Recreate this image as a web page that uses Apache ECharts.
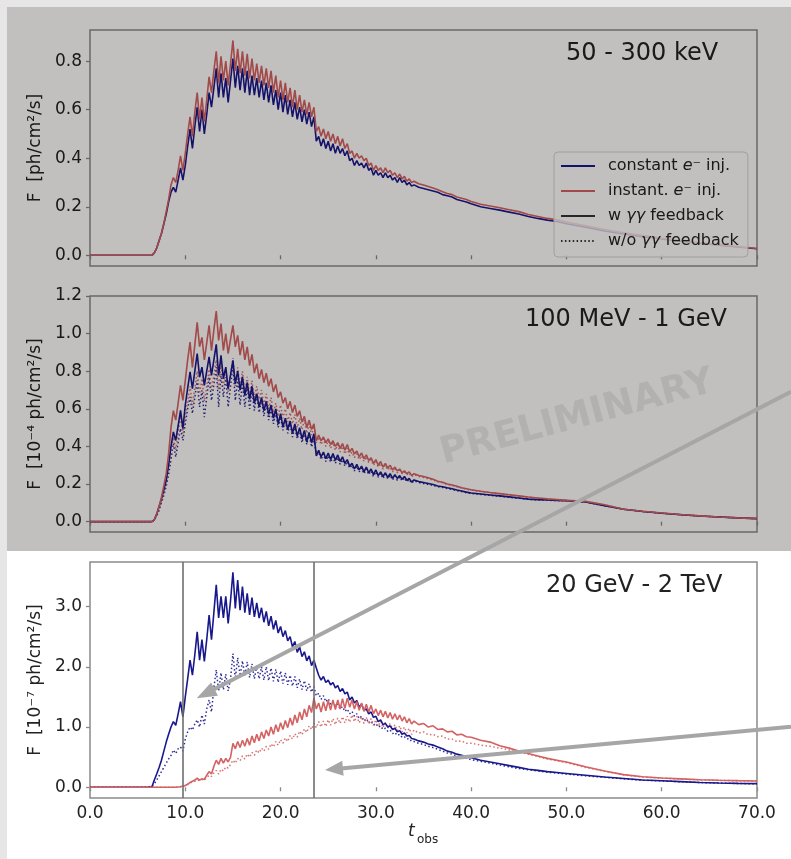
<!DOCTYPE html>
<html><head><meta charset="utf-8">
<script src="https://cdn.jsdelivr.net/npm/echarts@6/dist/echarts.min.js"></script>
<style>html,body{margin:0;padding:0;background:#e6e6e6;}#c{width:791px;height:859px;}</style>
</head><body><div id="c"></div>
<script>
// ---------- DATA ----------
const T = [
0, 6, 6.5, 6.75,
7, 7.25, 7.5, 7.75,
8, 8.25, 8.5, 8.75,
9, 9.25, 9.5, 9.75,
10, 10.25, 10.5, 10.75,
11, 11.25, 11.5, 11.75,
12, 12.25, 12.5, 12.75,
13, 13.25, 13.5, 13.75,
14, 14.25, 14.5, 14.75,
15, 15.25, 15.5, 15.75,
16, 16.25, 16.5, 16.75,
17, 17.25, 17.5, 17.75,
18, 18.25, 18.5, 18.75,
19, 19.25, 19.5, 19.75,
20, 20.25, 20.5, 20.75,
21, 21.25, 21.5, 21.75,
22, 22.25, 22.5, 22.75,
23, 23.25, 23.5, 23.75,
24, 24.25, 24.5, 24.75,
25, 25.25, 25.5, 25.75,
26, 26.25, 26.5, 26.75,
27, 27.25, 27.5, 27.75,
28, 28.25, 28.5, 28.75,
29, 29.25, 29.5, 29.75,
30, 30.25, 30.5, 30.75,
31, 31.25, 31.5, 31.75,
32, 32.25, 32.5, 32.75,
33, 33.25, 33.5, 33.75,
34, 34.5, 35, 35.5, 36, 36.5, 37, 37.5, 38, 38.5, 39, 39.5, 40,
41, 42, 43, 44, 45, 46, 47, 48, 49, 50,
52, 54, 56, 58, 60, 62, 64, 66, 68, 70];

// Panel 1: 50 - 300 keV  [ph/cm2/s]
const P1_CONST = [
0, 0, 0, 0.01,
0.03, 0.06, 0.09, 0.13,
0.17, 0.22, 0.26, 0.28,
0.26, 0.31, 0.36, 0.31,
0.37, 0.45, 0.52, 0.44,
0.53, 0.61, 0.51, 0.60,
0.50, 0.58, 0.67, 0.61,
0.69, 0.77, 0.65, 0.75,
0.65, 0.73, 0.63, 0.72,
0.81, 0.69, 0.78, 0.68,
0.77, 0.67, 0.76, 0.66,
0.74, 0.66, 0.73, 0.65,
0.72, 0.64, 0.71, 0.63,
0.70, 0.62, 0.68, 0.60,
0.67, 0.59, 0.66, 0.58,
0.64, 0.57, 0.63, 0.56,
0.61, 0.55, 0.60, 0.54,
0.59, 0.53, 0.57, 0.47,
0.49, 0.45, 0.48, 0.44,
0.47, 0.43, 0.46, 0.42,
0.45, 0.42, 0.44, 0.41,
0.43, 0.39, 0.40, 0.37,
0.39, 0.37, 0.38, 0.36,
0.38, 0.35, 0.36, 0.33,
0.35, 0.33, 0.34, 0.32,
0.34, 0.32, 0.33, 0.31,
0.32, 0.30, 0.32, 0.30,
0.31, 0.29, 0.30, 0.285,
0.29, 0.28, 0.275, 0.27, 0.265, 0.26, 0.25, 0.245, 0.24, 0.23, 0.225, 0.22, 0.212,
0.20, 0.193, 0.186, 0.178, 0.17, 0.16, 0.152, 0.145, 0.139, 0.13,
0.116, 0.10, 0.088, 0.077, 0.067, 0.058, 0.05, 0.042, 0.034, 0.027];

const P1_INST = [
0, 0, 0, 0.01,
0.03, 0.06, 0.09, 0.13,
0.18, 0.23, 0.29, 0.32,
0.30, 0.35, 0.41, 0.35,
0.42, 0.50, 0.57, 0.49,
0.59, 0.67, 0.56, 0.65,
0.55, 0.64, 0.735, 0.67,
0.76, 0.84, 0.71, 0.82,
0.72, 0.80, 0.70, 0.79,
0.885, 0.76, 0.85, 0.75,
0.84, 0.74, 0.83, 0.73,
0.81, 0.72, 0.79, 0.71,
0.78, 0.70, 0.77, 0.69,
0.76, 0.67, 0.74, 0.65,
0.72, 0.64, 0.71, 0.63,
0.69, 0.61, 0.68, 0.60,
0.66, 0.59, 0.64, 0.58,
0.63, 0.57, 0.61, 0.51,
0.53, 0.49, 0.52, 0.48,
0.51, 0.47, 0.50, 0.46,
0.49, 0.45, 0.48, 0.44,
0.46, 0.42, 0.43, 0.40,
0.42, 0.40, 0.41, 0.39,
0.40, 0.37, 0.38, 0.35,
0.37, 0.35, 0.36, 0.34,
0.36, 0.34, 0.35, 0.33,
0.34, 0.32, 0.335, 0.315,
0.325, 0.305, 0.315, 0.30,
0.305, 0.295, 0.29, 0.283, 0.277, 0.27, 0.262, 0.255, 0.25, 0.24, 0.235, 0.23, 0.222,
0.21, 0.203, 0.196, 0.188, 0.18, 0.168, 0.16, 0.152, 0.146, 0.137,
0.122, 0.106, 0.093, 0.081, 0.07, 0.061, 0.052, 0.044, 0.036, 0.028];

// Panel 2: 100 MeV - 1 GeV  [1e-4 ph/cm2/s]
const P2_CONST = [
0, 0, 0, 0.01,
0.04, 0.08, 0.12, 0.17,
0.22, 0.30, 0.40, 0.477,
0.432, 0.51, 0.592, 0.495,
0.62, 0.71, 0.796, 0.707,
0.80, 0.894, 0.769, 0.822,
0.725, 0.80, 0.876, 0.778,
0.86, 0.943, 0.778, 0.885,
0.761, 0.822, 0.707, 0.78,
0.858, 0.734, 0.80, 0.70,
0.77, 0.67, 0.74, 0.65,
0.72, 0.63, 0.68, 0.61,
0.66, 0.59, 0.64, 0.57,
0.62, 0.55, 0.60, 0.52,
0.574, 0.503, 0.55, 0.49,
0.535, 0.47, 0.52, 0.455,
0.50, 0.44, 0.485, 0.425,
0.475, 0.42, 0.468, 0.35,
0.379, 0.344, 0.37, 0.335,
0.365, 0.33, 0.362, 0.326,
0.355, 0.32, 0.345, 0.31,
0.33, 0.295, 0.31, 0.28,
0.305, 0.275, 0.295, 0.265,
0.29, 0.26, 0.28, 0.25,
0.275, 0.245, 0.265, 0.24,
0.26, 0.235, 0.255, 0.23,
0.25, 0.23, 0.245, 0.225,
0.24, 0.22, 0.23, 0.21,
0.222, 0.213, 0.208, 0.203, 0.198, 0.19, 0.186, 0.18, 0.175, 0.168, 0.163, 0.157, 0.152,
0.147, 0.142, 0.137, 0.132, 0.126, 0.12, 0.117, 0.115, 0.113, 0.112,
0.105, 0.085, 0.066, 0.054, 0.045, 0.037, 0.03, 0.025, 0.02, 0.016];

const P2_INST = [
0, 0, 0, 0.01,
0.04, 0.08, 0.13, 0.19,
0.255, 0.36, 0.50, 0.59,
0.54, 0.63, 0.725, 0.645,
0.75, 0.86, 0.955, 0.82,
0.94, 1.06, 0.93, 0.98,
0.86, 0.95, 1.044, 0.91,
1.02, 1.12, 0.964, 1.053,
0.911, 1.0, 0.894, 0.97,
1.044, 0.929, 0.991, 0.885,
0.96, 0.86, 0.93, 0.83,
0.89, 0.79, 0.84, 0.76,
0.81, 0.74, 0.79, 0.72,
0.76, 0.69, 0.73, 0.66,
0.69, 0.63, 0.66, 0.60,
0.64, 0.58, 0.62, 0.56,
0.59, 0.53, 0.56, 0.50,
0.54, 0.49, 0.52, 0.43,
0.46, 0.43, 0.45, 0.42,
0.44, 0.41, 0.43, 0.40,
0.42, 0.39, 0.415, 0.38,
0.41, 0.37, 0.39, 0.36,
0.375, 0.345, 0.365, 0.335,
0.355, 0.325, 0.34, 0.31,
0.33, 0.30, 0.32, 0.29,
0.31, 0.285, 0.30, 0.275,
0.29, 0.27, 0.28, 0.26,
0.27, 0.255, 0.265, 0.245,
0.255, 0.245, 0.24, 0.233, 0.225, 0.215, 0.21, 0.2, 0.195, 0.188, 0.18, 0.175, 0.17,
0.162, 0.155, 0.149, 0.143, 0.137, 0.131, 0.126, 0.121, 0.117, 0.113,
0.108, 0.09, 0.066, 0.055, 0.046, 0.038, 0.031, 0.025, 0.02, 0.016];

const P2_CONST_NOFB = [
0, 0, 0, 0.01,
0.03, 0.06, 0.10, 0.14,
0.19, 0.25, 0.33, 0.416,
0.344, 0.42, 0.495, 0.432,
0.52, 0.60, 0.663, 0.575,
0.66, 0.752, 0.61, 0.698,
0.556, 0.66, 0.769, 0.645,
0.73, 0.822, 0.61, 0.787,
0.663, 0.769, 0.61, 0.72,
0.831, 0.645, 0.76, 0.62,
0.74, 0.61, 0.72, 0.60,
0.70, 0.59, 0.68, 0.58,
0.65, 0.56, 0.63, 0.54,
0.60, 0.52, 0.58, 0.50,
0.556, 0.486, 0.54, 0.47,
0.52, 0.45, 0.50, 0.44,
0.49, 0.42, 0.475, 0.41,
0.468, 0.397, 0.44, 0.36,
0.37, 0.33, 0.36, 0.32,
0.35, 0.315, 0.345, 0.31,
0.34, 0.305, 0.33, 0.295,
0.32, 0.285, 0.30, 0.27,
0.295, 0.265, 0.285, 0.255,
0.28, 0.25, 0.27, 0.24,
0.265, 0.237, 0.257, 0.23,
0.253, 0.228, 0.247, 0.222,
0.243, 0.22, 0.238, 0.217,
0.233, 0.212, 0.225, 0.205,
0.217, 0.208, 0.203, 0.198, 0.193, 0.186, 0.182, 0.176, 0.171, 0.165, 0.16, 0.154, 0.15,
0.145, 0.14, 0.135, 0.13, 0.124, 0.119, 0.116, 0.114, 0.112, 0.111,
0.104, 0.085, 0.066, 0.054, 0.045, 0.037, 0.03, 0.025, 0.02, 0.016];

const P2_INST_NOFB = [
0, 0, 0, 0.01,
0.04, 0.07, 0.11, 0.16,
0.21, 0.29, 0.38, 0.45,
0.38, 0.47, 0.56, 0.47,
0.56, 0.64, 0.72, 0.62,
0.71, 0.80, 0.68, 0.76,
0.64, 0.72, 0.81, 0.70,
0.78, 0.86, 0.70, 0.84,
0.72, 0.82, 0.69, 0.78,
0.87, 0.72, 0.82, 0.71,
0.80, 0.69, 0.77, 0.67,
0.75, 0.66, 0.72, 0.65,
0.70, 0.62, 0.68, 0.60,
0.66, 0.58, 0.63, 0.56,
0.62, 0.55, 0.60, 0.53,
0.58, 0.52, 0.57, 0.50,
0.55, 0.49, 0.54, 0.47,
0.52, 0.46, 0.51, 0.42,
0.45, 0.41, 0.44, 0.40,
0.43, 0.39, 0.42, 0.38,
0.41, 0.37, 0.40, 0.36,
0.39, 0.35, 0.37, 0.34,
0.36, 0.33, 0.35, 0.32,
0.345, 0.315, 0.33, 0.30,
0.32, 0.29, 0.31, 0.28,
0.30, 0.275, 0.29, 0.265,
0.28, 0.26, 0.275, 0.255,
0.265, 0.25, 0.26, 0.24,
0.25, 0.24, 0.235, 0.228, 0.221, 0.212, 0.207, 0.198, 0.193, 0.186, 0.179, 0.173, 0.168,
0.16, 0.154, 0.148, 0.142, 0.136, 0.13, 0.125, 0.12, 0.116, 0.112,
0.107, 0.09, 0.066, 0.055, 0.046, 0.038, 0.031, 0.025, 0.02, 0.016];

// Panel 3: 20 GeV - 2 TeV  [1e-7 ph/cm2/s]
const P3_CONST = [
0, 0, 0.01, 0.12,
0.22, 0.33, 0.45, 0.60,
0.75, 0.88, 1.0, 1.09,
1.03, 1.22, 1.42, 1.17,
1.5, 1.8, 2.11, 1.86,
2.2, 2.58, 2.11, 2.45,
2.09, 2.45, 2.86, 2.45,
2.9, 3.36, 2.81, 3.17,
2.81, 3.17, 2.72, 3.1,
3.57, 2.97, 3.44, 2.94,
3.33, 2.9, 3.22, 2.86,
3.15, 2.83, 3.06, 2.81,
2.98, 2.74, 2.92, 2.68,
2.84, 2.62, 2.77, 2.56,
2.67, 2.5, 2.6, 2.43,
2.5, 2.33, 2.42, 2.24,
2.33, 2.17, 2.25, 2.1,
2.18, 2.02, 2.11, 1.98,
1.86, 1.78, 1.84, 1.74,
1.78, 1.7, 1.74, 1.65,
1.69, 1.59, 1.64, 1.55,
1.58, 1.45, 1.5, 1.4,
1.44, 1.33, 1.38, 1.28,
1.3, 1.22, 1.25, 1.16,
1.18, 1.09, 1.12, 1.04,
1.06, 1.0, 1.02, 0.96,
0.98, 0.92, 0.94, 0.88,
0.9, 0.85, 0.86, 0.81,
0.8, 0.77, 0.75, 0.72, 0.7, 0.67, 0.64, 0.6, 0.58, 0.55, 0.53, 0.51, 0.49,
0.45, 0.42, 0.39, 0.36, 0.33, 0.3, 0.28, 0.26, 0.245, 0.23,
0.2, 0.17, 0.145, 0.12, 0.108, 0.094, 0.08, 0.071, 0.064, 0.06];

const P3_INST = [
0, 0, 0, 0,
0, 0, 0, 0,
0, 0, 0, 0,
0, 0.005, 0.01, 0.02,
0.03, 0.05, 0.08, 0.1,
0.12, 0.15, 0.12, 0.14,
0.13, 0.2, 0.26, 0.22,
0.35, 0.45, 0.38, 0.48,
0.4, 0.48, 0.42, 0.5,
0.73, 0.64, 0.76, 0.66,
0.78, 0.68, 0.81, 0.7,
0.85, 0.74, 0.88, 0.77,
0.92, 0.81, 0.95, 0.85,
1.0, 0.88, 1.04, 0.92,
1.07, 0.96, 1.11, 0.99,
1.15, 1.03, 1.2, 1.07,
1.25, 1.12, 1.3, 1.17,
1.36, 1.24, 1.48, 1.3,
1.4, 1.25, 1.42, 1.27,
1.44, 1.28, 1.45, 1.29,
1.45, 1.3, 1.47, 1.31,
1.48, 1.33, 1.45, 1.3,
1.42, 1.28, 1.4, 1.26,
1.38, 1.25, 1.36, 1.22,
1.3, 1.19, 1.28, 1.17,
1.26, 1.15, 1.24, 1.13,
1.22, 1.12, 1.2, 1.1,
1.17, 1.07, 1.14, 1.05,
1.1, 1.04, 1.06, 1.0, 1.02, 0.96, 0.97, 0.92, 0.93, 0.87, 0.88, 0.84, 0.83,
0.78, 0.75, 0.69, 0.65, 0.6, 0.56, 0.52, 0.48, 0.45, 0.42,
0.34, 0.27, 0.21, 0.175, 0.155, 0.14, 0.125, 0.116, 0.11, 0.105];

const P3_CONST_NOFB = [
0, 0, 0.02, 0.06,
0.12, 0.19, 0.26, 0.33,
0.4, 0.47, 0.53, 0.62,
0.56, 0.64, 0.67, 0.6,
0.8, 0.92, 1.0, 0.95,
1.05, 1.12, 1.0, 1.2,
1.05, 1.3, 1.45, 1.25,
1.65, 1.95, 1.6, 1.9,
1.62, 1.88, 1.6, 1.8,
2.22, 1.8, 2.15, 1.85,
2.1, 1.84, 2.08, 1.82,
2.05, 1.8, 2.02, 1.8,
2.0, 1.78, 2.0, 1.77,
1.98, 1.76, 1.96, 1.74,
1.93, 1.72, 1.9, 1.7,
1.86, 1.68, 1.84, 1.65,
1.8, 1.62, 1.77, 1.6,
1.72, 1.58, 1.67, 1.52,
1.56, 1.46, 1.52, 1.42,
1.47, 1.38, 1.42, 1.35,
1.38, 1.3, 1.34, 1.26,
1.3, 1.22, 1.26, 1.18,
1.22, 1.14, 1.18, 1.1,
1.14, 1.07, 1.1, 1.03,
1.06, 1.0, 1.02, 0.96,
0.98, 0.93, 0.95, 0.89,
0.91, 0.86, 0.88, 0.83,
0.84, 0.8, 0.81, 0.76,
0.76, 0.73, 0.71, 0.68, 0.66, 0.63, 0.6, 0.57, 0.55, 0.52, 0.5, 0.48, 0.46,
0.43, 0.4, 0.37, 0.34, 0.31, 0.29, 0.27, 0.25, 0.235, 0.22,
0.19, 0.165, 0.14, 0.118, 0.105, 0.092, 0.079, 0.07, 0.063, 0.057];

const P3_INST_NOFB = [
0, 0, 0, 0,
0, 0, 0, 0,
0, 0, 0, 0,
0, 0.005, 0.01, 0.02,
0.03, 0.05, 0.07, 0.09,
0.1, 0.12, 0.11, 0.13,
0.12, 0.16, 0.2, 0.18,
0.24, 0.28, 0.22, 0.3,
0.27, 0.34, 0.32, 0.38,
0.45, 0.4, 0.48, 0.44,
0.52, 0.47, 0.55, 0.5,
0.58, 0.53, 0.62, 0.57,
0.65, 0.6, 0.68, 0.63,
0.72, 0.67, 0.76, 0.7,
0.79, 0.73, 0.82, 0.76,
0.86, 0.8, 0.89, 0.83,
0.93, 0.87, 0.97, 0.91,
1.02, 0.96, 1.06, 0.99,
1.09, 1.0, 1.1, 1.01,
1.12, 1.03, 1.14, 1.04,
1.15, 1.06, 1.17, 1.07,
1.18, 1.08, 1.2, 1.09,
1.18, 1.07, 1.17, 1.06,
1.16, 1.05, 1.14, 1.03,
1.12, 1.01, 1.1, 0.99,
1.08, 0.98, 1.06, 0.96,
1.04, 0.94, 1.02, 0.92,
1.0, 0.9, 0.98, 0.88,
0.95, 0.9, 0.92, 0.87, 0.88, 0.84, 0.85, 0.8, 0.8, 0.76, 0.77, 0.73, 0.73,
0.7, 0.68, 0.65, 0.62, 0.58, 0.55, 0.51, 0.47, 0.44, 0.41,
0.33, 0.265, 0.205, 0.17, 0.152, 0.137, 0.123, 0.114, 0.108, 0.103];

const V_LINES = [9.75, 23.5];
const BANDS = ['50 - 300 keV', '100 MeV - 1 GeV', '20 GeV - 2 TeV'];
const Y_NAMES = ['F  [ph/cm²/s]', 'F  [10⁻⁴ ph/cm²/s]', 'F  [10⁻⁷ ph/cm²/s]'];
const Y_TICKS = [[0, 0.2, 0.4, 0.6, 0.8], [0, 0.2, 0.4, 0.6, 0.8, 1.0, 1.2], [0, 1, 2, 3]];
const Y_MIN = [-0.044, -0.055, -0.178];
const Y_MAX = [0.928, 1.2, 3.74];
const X_MIN = 0, X_MAX = 70, X_STEP = 10;
const LEG = ['constant e⁻ inj.', 'instant. e⁻ inj.', 'w γγ feedback', 'w/o γγ feedback'];

// ---------- CHART ----------
const FONT = 'DejaVu Sans';
const BLUE = '#18188c', RED = '#d46262', SPINE = '#8a8a8a', TXT = '#222';
const chart = echarts.init(document.getElementById('c'), null, {renderer: 'canvas'});
const pairs = arr => T.map((t, i) => [t, arr[i]]);
function line(name, arr, g, color, dotted, extra) {
  return Object.assign({
    type: 'line', name: name, xAxisIndex: g, yAxisIndex: g, data: pairs(arr),
    showSymbol: false, symbol: 'none', animation: false, silent: true,
    lineStyle: {color: color, width: dotted ? 1.5 : 1.6, type: dotted ? [1.5, 2.4] : 'solid', opacity: dotted ? 0.9 : 1},
    itemStyle: {color: color}, z: dotted ? 2 : 3
  }, extra || {});
}
const GT = [30, 296, 562];
const grids = GT.map(t => ({left: 90, top: t, width: 667, height: 236, show: true,
  borderColor: SPINE, borderWidth: 1.5, backgroundColor: 'transparent'}));
const xAxes = [0, 1, 2].map(i => ({
  type: 'value', gridIndex: i, min: X_MIN, max: X_MAX, interval: X_STEP,
  axisLine: {show: false}, splitLine: {show: false},
  axisTick: {show: true, length: 4, lineStyle: {color: SPINE, width: 1.3}},
  axisLabel: {show: i === 2, margin: 7, fontSize: 17, fontFamily: FONT, color: TXT,
    formatter: v => v.toFixed(1)}
}));
const yAxes = [0, 1, 2].map(i => ({
  type: 'value', gridIndex: i, min: Y_MIN[i], max: Y_MAX[i],
  name: Y_NAMES[i], nameLocation: 'middle', nameGap: 39, nameRotate: 90,
  nameTextStyle: {fontSize: 17, fontFamily: FONT, color: TXT},
  axisLine: {show: false}, splitLine: {show: false},
  axisTick: {show: true, length: 4, customValues: Y_TICKS[i], lineStyle: {color: SPINE, width: 1.3}},
  axisLabel: {customValues: Y_TICKS[i], fontSize: 17, fontFamily: FONT, color: TXT,
    formatter: v => v.toFixed(1)}
}));

const series = [
  line(LEG[0], P1_CONST, 0, BLUE, false),
  line(LEG[1], P1_INST, 0, RED, false),
  {type: 'line', name: LEG[2], xAxisIndex: 0, yAxisIndex: 0, data: [], symbol: 'none',
    lineStyle: {color: '#333', width: 1.6}, itemStyle: {color: '#333'}},
  {type: 'line', name: LEG[3], xAxisIndex: 0, yAxisIndex: 0, data: [], symbol: 'none',
    lineStyle: {color: '#333', width: 1.5, type: [1.5, 2.4]}, itemStyle: {color: '#333'}},
  line('const nofb 2', P2_CONST_NOFB, 1, BLUE, true),
  line('inst nofb 2', P2_INST_NOFB, 1, RED, true),
  line(LEG[0], P2_CONST, 1, BLUE, false),
  line(LEG[1], P2_INST, 1, RED, false),
  line('const nofb 3', P3_CONST_NOFB, 2, BLUE, true),
  line('inst nofb 3', P3_INST_NOFB, 2, RED, true),
  line(LEG[0], P3_CONST, 2, BLUE, false, {markLine: {silent: true, symbol: ['none', 'none'],
    label: {show: false}, animation: false,
    lineStyle: {color: '#6e6e6e', width: 1.6, type: 'solid'},
    data: V_LINES.map(v => ({xAxis: v}))}}),
  line(LEG[1], P3_INST, 2, RED, false)
];

// arrows (annotations)
function arrow(x1, y1, x2, y2, len, hw) {
  const dx = x2 - x1, dy = y2 - y1, L = Math.hypot(dx, dy), ux = dx / L, uy = dy / L;
  const bx = x2 - ux * len, by = y2 - uy * len;
  return [
    {type: 'line', z: 102, silent: true, shape: {x1: x1, y1: y1, x2: bx + ux * 2, y2: by + uy * 2},
      style: {stroke: '#a6a6a6', lineWidth: 4}},
    {type: 'polygon', z: 102, silent: true,
      shape: {points: [[x2, y2], [bx - uy * hw, by + ux * hw], [bx + uy * hw, by - ux * hw]]},
      style: {fill: '#a6a6a6'}}
  ];
}
const titlePos = [[566, 54], [525, 320], [546, 586]];
const graphic = [
  {type: 'rect', z: -100, silent: true, shape: {x: 7, y: 7, width: 784, height: 852}, style: {fill: '#ffffff'}},
  ...BANDS.map((b, i) => ({type: 'text', z: 10, silent: true, x: titlePos[i][0], y: titlePos[i][1],
    style: {text: b, font: '24px "DejaVu Sans"', fill: TXT, align: 'left', verticalAlign: 'middle'}})),
  {type: 'text', z: 10, silent: true, x: 408, y: 832,
    style: {text: 't', font: 'italic 17px "DejaVu Sans"', fill: TXT, align: 'left', verticalAlign: 'middle'}},
  {type: 'text', z: 10, silent: true, x: 417, y: 840,
    style: {text: 'obs', font: '12px "DejaVu Sans"', fill: TXT, align: 'left', verticalAlign: 'middle'}},
  {type: 'rect', z: 100, silent: true, shape: {x: 7, y: 7, width: 784, height: 544},
    style: {fill: 'rgba(12,0,0,0.25)'}},
  {type: 'text', z: 101, silent: true, x: 577, y: 418, rotation: 15 * Math.PI / 180,
    style: {text: 'PRELIMINARY', font: 'bold 37px "DejaVu Sans"', fill: '#b3b0b0', align: 'center', verticalAlign: 'middle'}},
  ...arrow(791, 391.7, 196.7, 698.3, 20, 7.5),
  ...arrow(791, 726.7, 325, 770, 18, 7.5)
];

chart.setOption({
  animation: false,
  backgroundColor: '#e6e6e6',
  grid: grids, xAxis: xAxes, yAxis: yAxes, series: series, graphic: graphic,
  legend: {
    data: LEG, orient: 'vertical', left: 554, top: 152, padding: [6, 9, 8, 6],
    itemWidth: 34, itemHeight: 16, itemGap: 9, selectedMode: false,
    itemStyle: {opacity: 0, borderWidth: 0},
    backgroundColor: 'rgba(255,255,255,0.8)', borderColor: '#d4d4d4', borderWidth: 1, borderRadius: 4,
    textStyle: {fontSize: 16, fontFamily: FONT, color: TXT, padding: [0, 0, 0, 8],
      rich: {i: {fontStyle: 'italic', fontSize: 16, fontFamily: FONT, color: TXT}}},
    formatter: n => n.replace('e⁻', '{i|e}⁻').replace('γγ', '{i|γγ}')
  }
});
</script></body></html>
